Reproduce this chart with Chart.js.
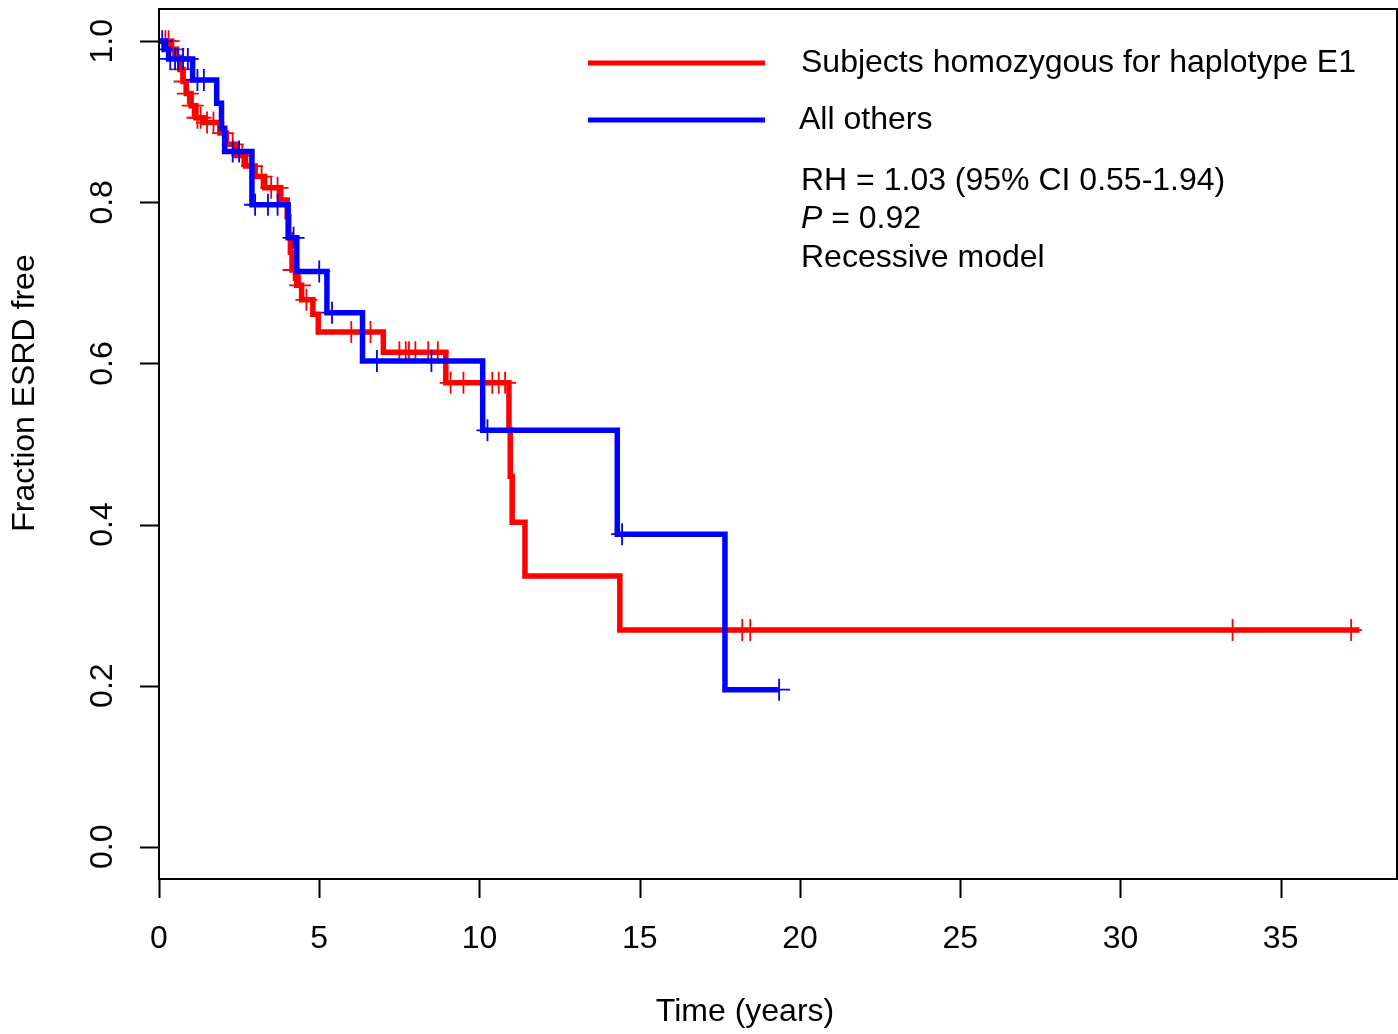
<!DOCTYPE html>
<html lang="en">
<head>
<meta charset="UTF-8">
<title>ESRD-free survival</title>
<script src="https://cdn.jsdelivr.net/npm/chart.js"></script>
<style>
  html, body { margin: 0; padding: 0; background: #fff; }
</style>
</head>
<body>
<canvas id="km" width="1398" height="1034"></canvas>
<script>
  // Kaplan-Meier steps: time (years) and survival after each drop
  const redTimes = [0, 0.35, 0.5, 0.65, 0.75, 0.85, 1.0, 1.15, 1.4, 1.9, 2.1, 2.4, 2.7, 3.0, 3.3, 3.8, 4.0, 4.05, 4.1, 4.15, 4.3, 4.45, 4.8, 4.97, 7.0, 8.95, 10.92, 10.96, 11.02, 11.42, 14.38, 37.46];
  const redSurv  = [1.0, 0.99, 0.98, 0.965, 0.95, 0.935, 0.92, 0.905, 0.899, 0.886, 0.872, 0.858, 0.845, 0.832, 0.818, 0.803, 0.782, 0.76, 0.738, 0.716, 0.697, 0.679, 0.661, 0.639, 0.614, 0.576, 0.518, 0.46, 0.403, 0.336, 0.269, 0.269];
  const redCensor = [0.2, 0.3, 0.45, 0.6, 0.7, 0.8, 0.9, 1.05, 1.2, 1.3, 1.5, 1.7, 2.0, 2.3, 2.6, 2.9, 3.2, 3.5, 3.7, 4.2, 4.4, 4.6, 6.0, 6.4, 6.6, 7.5, 7.7, 7.8, 8.0, 8.4, 8.7, 9.1, 9.5, 10.4, 10.6, 10.8, 18.2, 18.45, 33.5, 37.2];

  const blueTimes = [0, 0.2, 0.3, 1.05, 1.8, 1.95, 2.05, 2.9, 4.03, 4.3, 5.24, 6.35, 10.1, 14.3, 17.66, 19.37];
  const blueSurv  = [1.0, 0.99, 0.978, 0.952, 0.923, 0.892, 0.863, 0.797, 0.756, 0.714, 0.663, 0.603, 0.517, 0.388, 0.195, 0.195];
  const blueCensor = [0.1, 0.25, 0.35, 0.5, 0.6, 0.75, 0.9, 1.2, 1.4, 2.3, 2.5, 3.0, 3.4, 3.7, 4.2, 5.0, 5.4, 6.8, 8.5, 10.25, 14.45, 19.35];

  const xTicks = [0, 5, 10, 15, 20, 25, 30, 35];
  const yTicks = [0, 0.2, 0.4, 0.6, 0.8, 1.0];
  const legendLabels = ['Subjects homozygous for haplotype E1', 'All others'];
  const noteLines = ['RH = 1.03 (95% CI 0.55-1.94)', 'P = 0.92', 'Recessive model'];

  const RED = '#ff0000';
  const BLUE = '#0000ff';
  const FONT = '"Liberation Sans", Arial, Helvetica, sans-serif';

  function survAt(times, surv, t) {
    let s = surv[0];
    for (let i = 0; i < times.length; i++) {
      if (times[i] <= t) s = surv[i];
    }
    return s;
  }

  const toPts = (xs, ys) => xs.map((x, i) => ({ x, y: ys[i] }));
  const censorPts = (c, times, surv) => c.map(t => ({ x: t, y: survAt(times, surv, t) }));

  const framePlugin = {
    id: 'frame',
    afterDraw(chart) {
      const ctx = chart.ctx;
      const a = chart.chartArea;
      const xs = chart.scales.x, ys = chart.scales.y;
      ctx.save();
      ctx.strokeStyle = '#000';
      ctx.fillStyle = '#000';
      ctx.lineWidth = 2;
      ctx.strokeRect(a.left, a.top, a.right - a.left, a.bottom - a.top);

      // x axis
      ctx.font = '32px ' + FONT;
      ctx.textAlign = 'center';
      ctx.textBaseline = 'middle';
      ctx.beginPath();
      xTicks.forEach(v => {
        const px = Math.round(xs.getPixelForValue(v)) + 0.5;
        ctx.moveTo(px, a.bottom);
        ctx.lineTo(px, a.bottom + 19);
      });
      ctx.stroke();
      xTicks.forEach(v => ctx.fillText(String(v), xs.getPixelForValue(v), 939));
      ctx.fillText('Time (years)', 745, 1012);

      // y axis
      ctx.beginPath();
      yTicks.forEach(v => {
        const py = Math.round(ys.getPixelForValue(v)) + 0.5;
        ctx.moveTo(a.left, py);
        ctx.lineTo(a.left - 19, py);
      });
      ctx.stroke();
      yTicks.forEach(v => {
        ctx.save();
        ctx.translate(103, ys.getPixelForValue(v));
        ctx.rotate(-Math.PI / 2);
        ctx.fillText(v.toFixed(1), 0, 0);
        ctx.restore();
      });
      ctx.save();
      ctx.translate(25, 393);
      ctx.rotate(-Math.PI / 2);
      ctx.fillText('Fraction ESRD free', 0, 0);
      ctx.restore();

      // legend
      ctx.lineWidth = 5;
      [[RED, 63], [BLUE, 120]].forEach(([c, y], i) => {
        ctx.strokeStyle = c;
        ctx.beginPath();
        ctx.moveTo(588, y);
        ctx.lineTo(765, y);
        ctx.stroke();
        ctx.textAlign = 'left';
        ctx.fillText(legendLabels[i], i === 0 ? 801 : 799, y);
      });
      ctx.textAlign = 'left';
      ctx.fillText(noteLines[0], 801, 181);
      ctx.font = 'italic 32px ' + FONT;
      ctx.fillText('P', 801, 219);
      const pw = ctx.measureText('P').width;
      ctx.font = '32px ' + FONT;
      ctx.fillText(noteLines[1].slice(1), 801 + pw, 219);
      ctx.fillText(noteLines[2], 801, 258);
      ctx.restore();
    }
  };

  new Chart(document.getElementById('km'), {
    type: 'scatter',
    data: {
      datasets: [
        { label: 'blue-line', data: toPts(blueTimes, blueSurv), showLine: true, stepped: 'before',
          borderColor: BLUE, borderWidth: 5.5, pointRadius: 0, order: 0 },
        { label: 'blue-censor', data: censorPts(blueCensor, blueTimes, blueSurv), showLine: false,
          pointStyle: 'cross', pointRadius: 11, borderColor: BLUE, backgroundColor: BLUE, pointBorderWidth: 1.8, order: 1 },
        { label: 'red-line', data: toPts(redTimes, redSurv), showLine: true, stepped: 'before',
          borderColor: RED, borderWidth: 5.5, pointRadius: 0, order: 2 },
        { label: 'red-censor', data: censorPts(redCensor, redTimes, redSurv), showLine: false,
          pointStyle: 'cross', pointRadius: 11, borderColor: RED, backgroundColor: RED, pointBorderWidth: 1.8, order: 3 }
      ]
    },
    options: {
      responsive: false,
      animation: false,
      devicePixelRatio: 1,
      layout: { autoPadding: false, padding: { left: 159, top: 9, right: 1, bottom: 155 } },
      plugins: { legend: { display: false }, tooltip: { enabled: false } },
      scales: {
        x: { type: 'linear', min: 0, max: 38.63, display: false },
        y: { type: 'linear', min: -0.04, max: 1.04, display: false }
      }
    },
    plugins: [framePlugin]
  });
</script>
</body>
</html>
